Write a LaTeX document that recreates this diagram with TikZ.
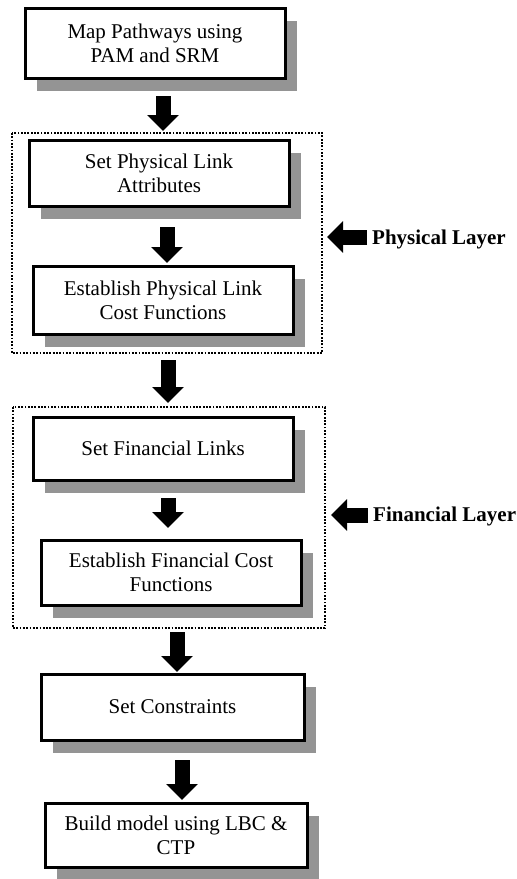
\documentclass[tikz,border=0pt]{standalone}
\usepackage{fontspec}
\setmainfont{Liberation Serif}
\usetikzlibrary{arrows.meta,shadows}
\begin{document}
\begin{tikzpicture}[x=1pt,y=-1pt,
  stepbox/.style={draw=black, line width=3pt, fill=white, align=center,
    inner sep=0pt, font=\fontsize{21}{24}\selectfont,
    drop shadow={shadow xshift=12pt, shadow yshift=-13pt, fill=black!42, opacity=1}},
  layerbox/.style={draw=black, line width=2pt, dash pattern=on 1.8pt off 1.5pt},
  blockarrow/.style={line width=15pt, draw=black,
    -{Triangle[width=31pt,length=16pt]}},
  layerlabel/.style={font=\fontsize{21}{24}\selectfont\bfseries, anchor=west, inner sep=0pt}]
\useasboundingbox (0,0) rectangle (517,879);

% dotted frames around the two layers
\draw[layerbox] (12,133) rectangle (322,353);
\draw[layerbox] (13,407) rectangle (325,628);

% process steps
\node[stepbox, minimum width=260pt, minimum height=70pt] (b1) at (155,43)
  {Map Pathways using\\PAM and SRM};
\node[stepbox, minimum width=260pt, minimum height=66pt] (b2) at (159,173)
  {Set Physical Link\\Attributes};
\node[stepbox, minimum width=260pt, minimum height=68pt] (b3) at (163,300)
  {Establish Physical Link\\Cost Functions};
\node[stepbox, minimum width=260pt, minimum height=63pt] (b4) at (163,448.5)
  {Set Financial Links};
\node[stepbox, minimum width=260pt, minimum height=65pt] (b5) at (171,572.5)
  {Establish Financial Cost\\Functions};
\node[stepbox, minimum width=263pt, minimum height=66pt] (b6) at (172.5,707)
  {Set Constraints};
\node[stepbox, minimum width=262pt, minimum height=64pt] (b7) at (176,835)
  {Build model using LBC \&\\CTP};

% arrow end points
\coordinate (a1s) at (163,96);  \coordinate (a1e) at (163,131);
\coordinate (a2s) at (167,227); \coordinate (a2e) at (167,263);
\coordinate (a3s) at (168,360); \coordinate (a3e) at (168,403);
\coordinate (a4s) at (168,498); \coordinate (a4e) at (168,528);
\coordinate (a5s) at (177,632); \coordinate (a5e) at (177,672);
\coordinate (a6s) at (182,760); \coordinate (a6e) at (182,800);

\draw[blockarrow] (a1s) -- (a1e);
\draw[blockarrow] (a2s) -- (a2e);
\draw[blockarrow] (a3s) -- (a3e);
\draw[blockarrow] (a4s) -- (a4e);
\draw[blockarrow] (a5s) -- (a5e);
\draw[blockarrow] (a6s) -- (a6e);

% layer labels with pointing arrows
\node[layerlabel] (pl) at (372,239) {Physical Layer};
\node[layerlabel] (fl) at (373,516) {Financial Layer};
\coordinate (p1) at (367,237); \coordinate (p2) at (327,237);
\coordinate (f1) at (368,515); \coordinate (f2) at (331,515);
\draw[blockarrow] (p1) -- (p2);
\draw[blockarrow] (f1) -- (f2);
\end{tikzpicture}
\end{document}
